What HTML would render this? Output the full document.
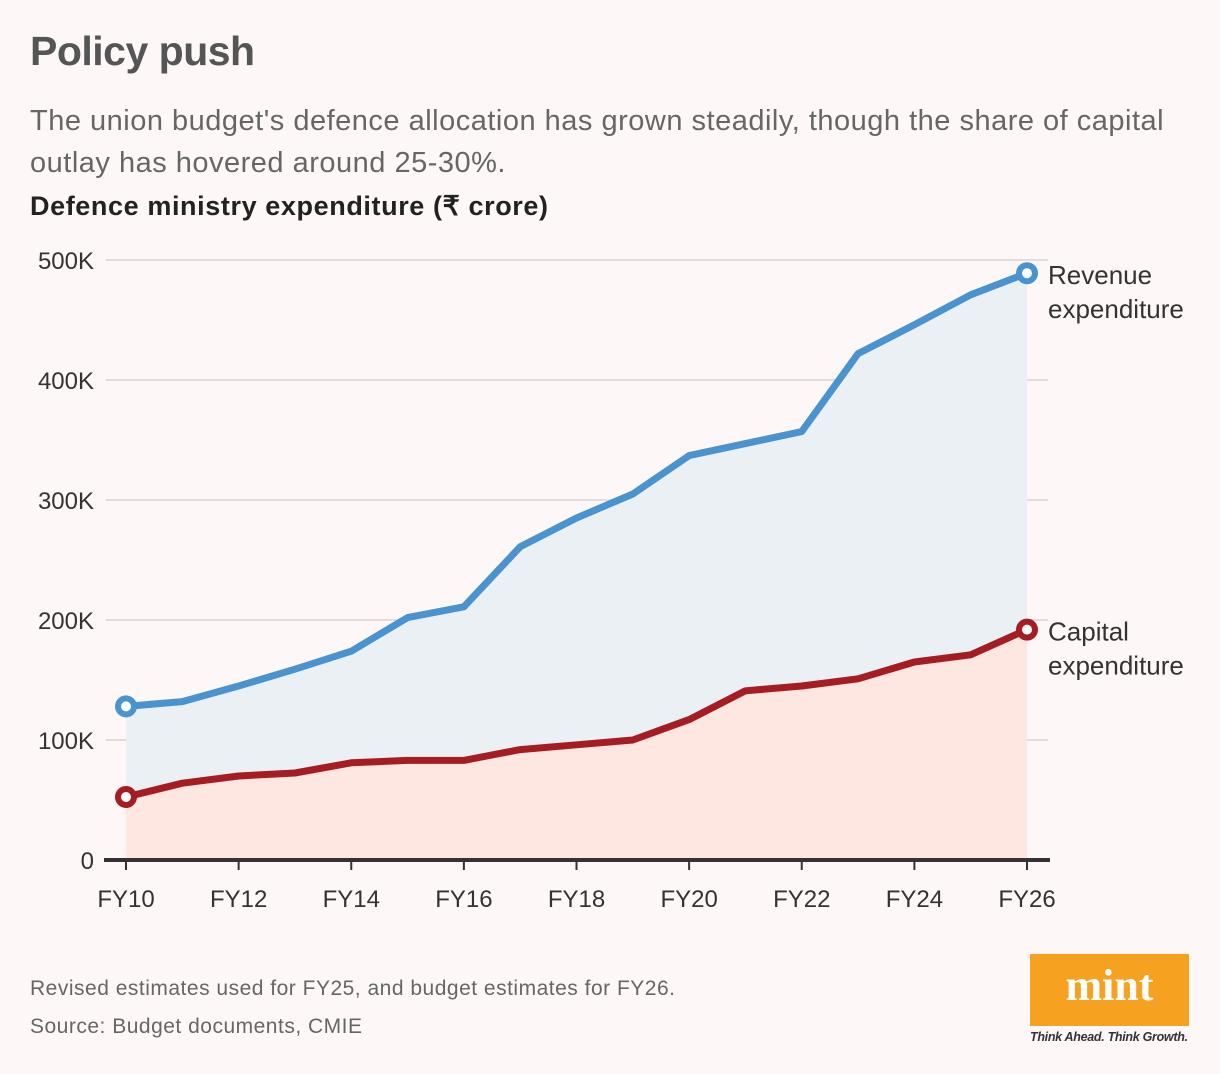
<!DOCTYPE html>
<html><head><meta charset="utf-8"><style>
body{margin:0;background:#fdf8f7;font-family:"Liberation Sans",sans-serif;}
#wrap{position:relative;width:1220px;height:1074px;overflow:hidden;background:#fdf8f7;}
.t{position:absolute;white-space:nowrap;}
</style></head><body>
<div id="wrap">
<div class="t" style="left:30px;top:28px;font-size:41px;font-weight:bold;color:#555;letter-spacing:-0.5px">Policy push</div>
<div class="t" style="left:30px;top:100px;font-size:29px;line-height:42px;color:#666;letter-spacing:0.5px">The union budget's defence allocation has grown steadily, though the share of capital<br>outlay has hovered around 25-30%.</div>
<div class="t" style="left:30px;top:191px;font-size:27px;font-weight:bold;color:#222;letter-spacing:0.6px">Defence ministry expenditure (₹ crore)</div>
<svg id="chart" width="1220" height="1074" style="position:absolute;left:0;top:0"></svg>
<div class="t" style="left:30px;top:977px;font-size:21px;color:#666;letter-spacing:0.5px">Revised estimates used for FY25, and budget estimates for FY26.</div>
<div class="t" style="left:30px;top:1015px;font-size:21px;color:#666;letter-spacing:0.5px">Source: Budget documents, CMIE</div>
<div style="position:absolute;left:1030px;top:954px;width:159px;height:72px;background:#f7a121;color:#fff;font-family:'Liberation Serif',serif;font-weight:bold;font-size:44px;text-align:center;line-height:64px">mint</div>
<div class="t" style="left:1030px;top:1030px;font-size:12.5px;font-style:italic;font-weight:bold;color:#333;letter-spacing:-0.3px">Think Ahead. Think Growth.</div>
</div>
<script>
const years=["FY10","FY11","FY12","FY13","FY14","FY15","FY16","FY17","FY18","FY19","FY20","FY21","FY22","FY23","FY24","FY25","FY26"];
const revenue=[128,132,145,159,174,202,211,261,285,305,337,347,357,422,446,471,489];
const capital=[52.5,64,70,72.5,81,83,83,92,96,100,117,141,145,151,165,171,192];
const yTicks=[0,100,200,300,400,500];
const yTickLabels=["0","100K","200K","300K","400K","500K"];
const xTickLabels=["FY10","FY12","FY14","FY16","FY18","FY20","FY22","FY24","FY26"];
const NS="http://www.w3.org/2000/svg";
const svg=document.getElementById('chart');
const X0=126,X1=1027,Y0=860,Y1=260;
const x=i=>X0+(X1-X0)*i/(years.length-1);
const y=v=>Y0-(Y0-Y1)*v/500;
function mk(tag,attrs){const e=document.createElementNS(NS,tag);for(const k in attrs)e.setAttribute(k,attrs[k]);svg.appendChild(e);return e;}
yTicks.forEach((t,i)=>{
 if(t>0){const g=mk('line',{x1:106,x2:1048,y1:y(t),y2:y(t),stroke:'#e2dcdb','stroke-width':2});
 
 }
 const l=mk('text',{x:94,y:y(t)+9,'text-anchor':'end','font-size':24,fill:'#333','font-family':'Liberation Sans, sans-serif'});
 l.textContent=yTickLabels[i];
 
 
});
function area(data,fill,name){
 let d=`M${x(0)},${Y0}`;data.forEach((v,i)=>d+=`L${x(i)},${y(v)}`);d+=`L${x(data.length-1)},${Y0}Z`;
 const p=mk('path',{d,fill});
 
 
}
area(revenue,'#ebf0f4','revenue-area');
area(capital,'#fde7e0','capital-area');
function line(data,col,name){
 const p=mk('polyline',{points:data.map((v,i)=>x(i)+','+y(v)).join(' '),fill:'none',stroke:col,'stroke-width':7,'stroke-linejoin':'round'});
 
 
 [0,data.length-1].forEach(i=>{
  const c=mk('circle',{cx:x(i),cy:y(data[i]),r:8,fill:'#fff',stroke:col,'stroke-width':6});
  
  
 });
}
line(revenue,'#4a93d1','revenue-line');
line(capital,'#a51d22','capital-line');
const ax=mk('line',{x1:104,x2:1050,y1:Y0,y2:Y0,stroke:'#333','stroke-width':4});


xTickLabels.forEach(lab=>{
 const i=years.indexOf(lab);
 const tk=mk('line',{x1:x(i),x2:x(i),y1:Y0,y2:Y0+10,stroke:'#333','stroke-width':2});
 
 
 const t=mk('text',{x:x(i),y:907,'text-anchor':'middle','font-size':24,fill:'#333','font-family':'Liberation Sans, sans-serif'});
 t.textContent=lab;
 
 
});
function lbl(lines,yy,name){
 const t=mk('text',{x:1048,y:yy,'font-size':26,fill:'#333','font-family':'Liberation Sans, sans-serif'});
 
 
 lines.forEach((s,k)=>{const ts=document.createElementNS(NS,'tspan');ts.setAttribute('x',1048);ts.setAttribute('dy',k?34:0);ts.textContent=s;t.appendChild(ts);});
}
lbl(["Revenue","expenditure"],y(revenue[16])+11,'revenue-label');
lbl(["Capital","expenditure"],y(capital[16])+11,'capital-label');
</script>
</body></html>
